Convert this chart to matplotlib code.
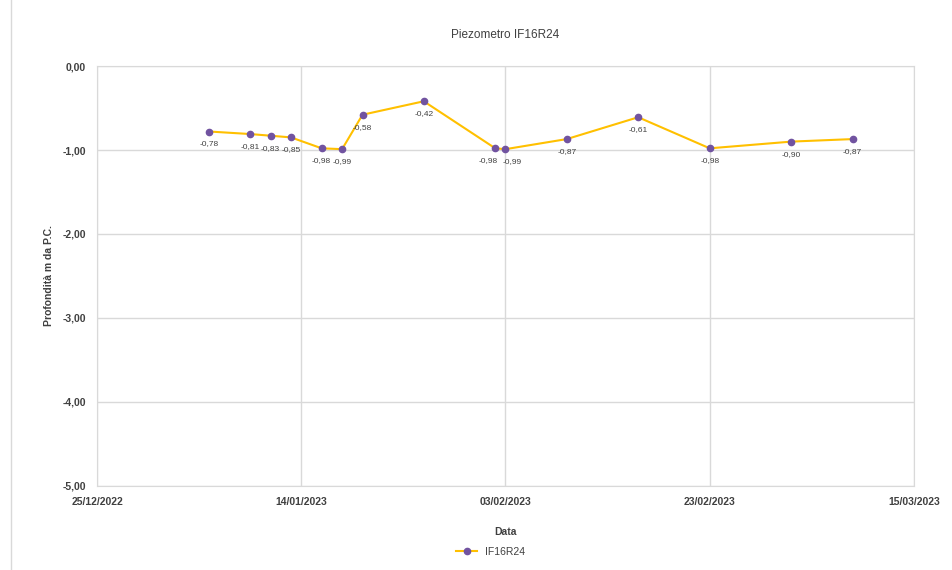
import matplotlib
matplotlib.use("Agg")
import matplotlib.pyplot as plt
import matplotlib.dates as mdates
import pandas as pd

plt.rcParams['font.family'] = ['Liberation Sans', 'DejaVu Sans']

# letture piezometro IF16R24
dates = pd.to_datetime([
    "2023-01-05", "2023-01-09", "2023-01-11", "2023-01-13", "2023-01-16",
    "2023-01-18", "2023-01-20", "2023-01-26", "2023-02-02", "2023-02-03",
    "2023-02-09", "2023-02-16", "2023-02-23", "2023-03-03", "2023-03-09",
])
depth = [-0.78, -0.81, -0.83, -0.85, -0.98, -0.99, -0.58, -0.42, -0.98, -0.99,
         -0.87, -0.61, -0.98, -0.90, -0.87]
xticks = pd.to_datetime(["2022-12-25", "2023-01-14", "2023-02-03", "2023-02-23", "2023-03-15"])
yticks = [0, -1, -2, -3, -4, -5]

fig = plt.figure(figsize=(9.53, 5.70), dpi=100)
ax = fig.add_axes([0.1018, 0.1474, 0.8572, 0.7368])

ax.plot(dates, depth, color='#FFC000', lw=1.5, marker='o', ms=4.5,
        mfc='#7153A0', mec='#7153A0', label='IF16R24', zorder=3)

# le due letture ravvicinate (2-3 febbraio) hanno etichette spostate di lato
shift = {8: -5, 9: 5}
for i, (d, v) in enumerate(zip(dates, depth)):
    ax.annotate(f"{v:.2f}".replace('.', ','), (d, v), xytext=(shift.get(i, 0), -9),
                textcoords='offset points', ha='center', va='center',
                fontsize=6, color='#404040')

ax.set_xlim(xticks[0], xticks[-1])
ax.set_ylim(-5, 0)
ax.set_xticks(xticks)
ax.xaxis.set_major_formatter(mdates.DateFormatter('%d/%m/%Y'))
ax.set_yticks(yticks)
ax.set_yticklabels([f"{v:.2f}".replace('.', ',') for v in yticks])
ax.grid(True, color='#D9D9D9', lw=1)
ax.set_axisbelow(True)
for s in ax.spines.values():
    s.set_color('#D9D9D9')
ax.tick_params(length=0, labelsize=7.5, colors='#404040', pad=8)
for lab in ax.get_xticklabels() + ax.get_yticklabels():
    lab.set_fontweight('bold')

ax.set_title('Piezometro IF16R24', fontsize=8.5, color='#404040', pad=20)
ax.set_xlabel('Data', fontsize=7.5, fontweight='bold', color='#404040', labelpad=14)
ax.set_ylabel('Profondità m da P.C.', fontsize=7.5, fontweight='bold', color='#404040', labelpad=6)

fig.legend(loc='center', bbox_to_anchor=(0.515, 0.032), frameon=False,
           fontsize=7.5, handlelength=2, labelcolor='#404040')

# cornice esterna del grafico
fig.patches.append(plt.Rectangle((0.012, -0.01), 1.0, 1.02, transform=fig.transFigure,
                                 fill=False, edgecolor='#D9D9D9', lw=1))

fig.savefig('out.png', dpi=100)
